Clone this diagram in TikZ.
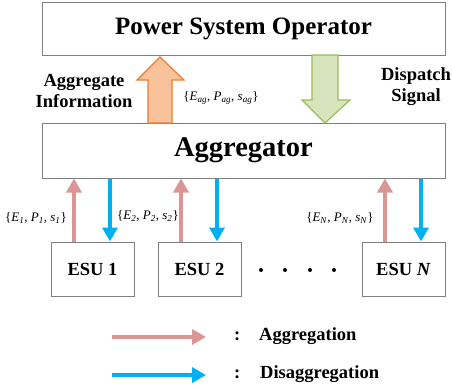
\documentclass[tikz,border=0pt]{standalone}
\usepackage{fontspec}
\setmainfont{Liberation Serif}
\usetikzlibrary{arrows.meta,calc}
\definecolor{boxgray}{HTML}{808080}
\definecolor{aggpink}{HTML}{D99694}
\definecolor{disblue}{HTML}{00B0F0}
\definecolor{orfill}{HTML}{F8C29A}
\definecolor{ordraw}{HTML}{ED7D31}
\definecolor{grfill}{HTML}{D7E4BD}
\definecolor{grdraw}{HTML}{9BBB59}
\newcommand{\vsb}[2]{\textit{#1}\textsubscript{\textit{#2}}}
\tikzset{
  bigbox/.style={draw=boxgray,line width=1pt,inner sep=0pt,minimum width=403pt,font=\bfseries},
  esubox/.style={draw=boxgray,line width=1pt,inner sep=0pt,minimum width=83pt,minimum height=54pt,font=\fontsize{18.5}{21}\selectfont\bfseries},
  aggarrow/.style={draw=aggpink,line width=3.5pt,-{Triangle[width=15pt,length=14pt]}},
  disarrow/.style={draw=disblue,line width=3.5pt,-{Triangle[width=15pt,length=14pt]}},
  sidetext/.style={align=center,font=\fontsize{18.5}{21}\selectfont\bfseries,inner sep=0pt},
  mathlabel/.style={font=\fontsize{13}{15}\selectfont,inner sep=0pt},
  legtext/.style={font=\fontsize{18.5}{21}\selectfont\bfseries,inner sep=0pt,anchor=west},
  bigup/.style={fill=orfill,draw=ordraw,line width=1.2pt,line join=miter},
  bigdown/.style={fill=grfill,draw=grdraw,line width=1.2pt,line join=miter}
}
\begin{document}
\begin{tikzpicture}[x=1pt,y=-1pt]
\useasboundingbox (0,0) rectangle (452,389);
\node[bigbox,minimum height=53pt] (pso) at (243.5,28.5) {\fontsize{25}{29}\selectfont Power System Operator};
\node[bigbox,minimum height=55pt] (agg) at (243.5,150.5) {\fontsize{28.5}{32}\selectfont Aggregator};
% big arrows
\draw[bigup] (148,123) -- (148,80) -- (137,80) -- (160,57) -- (184,80) -- (172,80) -- (172,123) -- cycle;
\draw[bigdown] (312,55) -- (312,100) -- (302,100) -- (325,123) -- (350,100) -- (338,100) -- (338,55) -- cycle;
\node[sidetext] (aginfo) at (84,91) {Aggregate\\Information};
\node[sidetext] (dispatch) at (416,87) {Dispatch\\Signal};
\node[mathlabel] (lag) at (221,98) {\{\vsb{E}{ag}, \vsb{P}{ag}, \vsb{s}{ag}\}};
% ESUs
\node[esubox] (esu1) at (92.5,269) {ESU 1};
\node[esubox] (esu2) at (199.5,269) {ESU 2};
\node[esubox] (esun) at (403.5,269) {ESU \textit{N}};
\foreach \xx in {261,285,310,334} \fill (\xx,270) circle (2pt);
\foreach \e in {esu1,esu2,esun}{
  \draw[aggarrow] ([xshift=-18.5pt]\e.north) -- ([xshift=-18.5pt]\e.north |- agg.south);
  \draw[disarrow] ([xshift=17.5pt]\e.north |- agg.south) -- ([xshift=17.5pt]\e.north);
}
\node[mathlabel] (l1) at (36,218) {\{\vsb{E}{1}, \vsb{P}{1}, \vsb{s}{1}\}};
\node[mathlabel] (l2) at (148,216) {\{\vsb{E}{2}, \vsb{P}{2}, \vsb{s}{2}\}};
\node[mathlabel] (ln) at (340,218) {\{\vsb{E}{N}, \vsb{P}{N}, \vsb{s}{N}\}};
% legend
\coordinate (la1) at (112,337);
\coordinate (la2) at (206,337);
\coordinate (lb1) at (112,375);
\coordinate (lb2) at (206,375);
\draw[aggarrow] (la1) -- (la2);
\draw[disarrow] (lb1) -- (lb2);
\node[legtext] (c1) at (234,336) {:};
\node[legtext] (c2) at (234,374) {:};
\node[legtext] (t1) at (259,336) {Aggregation};
\node[legtext] (t2) at (260,374) {Disaggregation};
\end{tikzpicture}
\end{document}
